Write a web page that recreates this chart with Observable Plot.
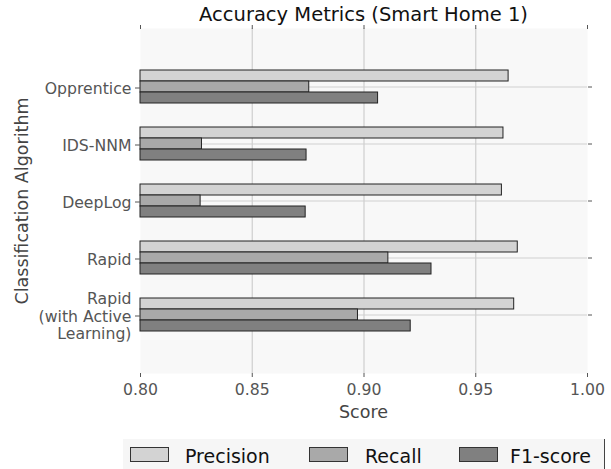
<!DOCTYPE html>
<html><head><meta charset="utf-8">
<script src="https://cdn.jsdelivr.net/npm/d3@7"></script>
<script src="https://cdn.jsdelivr.net/npm/@observablehq/plot@0.6"></script>
<style>
body{margin:0;background:#fff;font-family:"DejaVu Sans",sans-serif;}
#wrap{position:relative;width:611px;height:469px;overflow:hidden;}
#chart{position:absolute;left:0;top:0;}
#title{position:absolute;left:140px;width:447px;top:5px;text-align:center;font-size:19.5px;line-height:19.5px;color:#111;white-space:nowrap;}
#ytitle{position:absolute;left:-128.5px;width:300px;top:190.5px;text-align:center;font-size:17.5px;line-height:20px;color:#444;transform:rotate(-90deg);white-space:nowrap;}
#xtitle{position:absolute;left:140px;width:447px;top:404px;text-align:center;font-size:17.5px;line-height:17.5px;color:#444;}
#legend{position:absolute;left:123px;top:439px;width:481px;height:30px;background:#f6f6f6;border-right:1.5px solid #444;}
.sw{position:absolute;top:8px;width:37px;height:13px;border:1px solid #333;}
.lt{position:absolute;top:1.5px;font-size:19px;line-height:30px;color:#111;white-space:nowrap;}
</style>
</head><body>
<div id="wrap">
  <div id="chart"></div>
  <div id="title">Accuracy Metrics (Smart Home 1)</div>
  <div id="ytitle">Classification Algorithm</div>
  <div id="xtitle">Score</div>
  <div id="legend"></div>
</div>
<script>
const categories = ["Opprentice", "IDS-NNM", "DeepLog", "Rapid", "Rapid\n(with Active\nLearning)"];
const metrics = ["Precision", "Recall", "F1-score"];
const precision = [0.9647, 0.9624, 0.9617, 0.9688, 0.9672];
const recall = [0.8755, 0.8275, 0.8269, 0.9109, 0.8973];
const f1score = [0.9063, 0.8743, 0.8739, 0.9302, 0.9209];
const xTicks = [0.80, 0.85, 0.90, 0.95, 1.00];
const xDomain = [0.80, 1.00];
const fills = ["#d3d3d3", "#a9a9a9", "#808080"];

const series = [precision, recall, f1score];
const barH = 11;
const barMarks = series.map((vals, i) => {
  const rows = categories.map((c, j) => ({cat: c, metric: metrics[i], v: vals[j]}));
  return Plot.barX(rows, {
    x1: () => xDomain[0], x2: "v", y: "cat",
    fill: fills[i], stroke: "#222", strokeWidth: 1,
    insetTop: i * barH, insetBottom: (metrics.length - 1 - i) * barH
  });
});

const plot = Plot.plot({
  width: 611, height: 430,
  marginTop: 28, marginBottom: 57, marginLeft: 140, marginRight: 24,
  style: {fontFamily: "DejaVu Sans, sans-serif", fontSize: "15.7px", background: "transparent"},
  x: {domain: xDomain, ticks: xTicks, label: null},
  y: {domain: categories, paddingInner: 0.427, paddingOuter: 0.7135, label: null},
  marks: [
    Plot.frame({fill: "#f8f8f8", stroke: "none"}),
    Plot.gridX({ticks: xTicks.slice(1, -1), stroke: "#cfcfcf", strokeOpacity: 1, strokeWidth: 1.2}),
    Plot.gridY({stroke: "#cfcfcf", strokeOpacity: 1, strokeWidth: 1.2}),
    ...barMarks,
    Plot.axisX({anchor: "bottom", ticks: xTicks, tickFormat: ".2f", tickSize: 4, tickPadding: 6, color: "#555", label: null}),
    Plot.axisX({anchor: "top", ticks: xTicks, tickFormat: () => "", tickSize: 4, color: "#555", label: null}),
    Plot.axisY({anchor: "left", tickSize: 5, tickPadding: 4, color: "#555", lineHeight: 1.12, dy: 1, label: null}),
    Plot.axisY({anchor: "right", tickSize: 4, tickFormat: () => "", color: "#555", label: null})
  ]
});
document.getElementById("chart").appendChild(plot);

const legend = document.getElementById("legend");
const swX = [7, 186, 336];
const txX = [62, 242, 387];
metrics.forEach((m, i) => {
  const s = document.createElement("div");
  s.className = "sw"; s.style.left = swX[i] + "px"; s.style.background = fills[i];
  legend.appendChild(s);
  const t = document.createElement("div");
  t.className = "lt"; t.style.left = txX[i] + "px"; t.textContent = m;
  legend.appendChild(t);
});
</script>
</body></html>
